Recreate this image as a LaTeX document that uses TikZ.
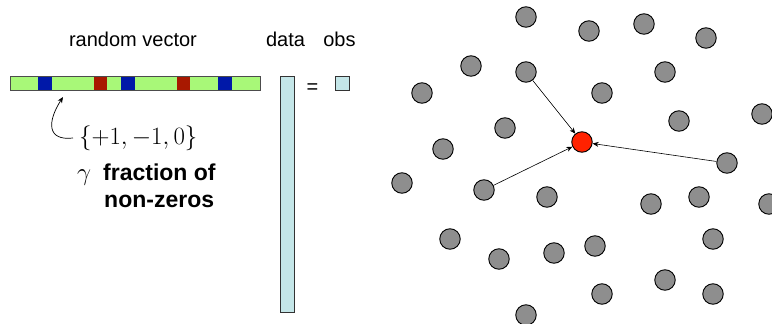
\documentclass[tikz,border=0pt]{standalone}
\usepackage{fontspec}
\setmainfont{Liberation Sans}
\usetikzlibrary{arrows.meta}
\definecolor{vgreen}{HTML}{A8F878}
\definecolor{vblue}{HTML}{0018A8}
\definecolor{vred}{HTML}{A81800}
\definecolor{vcyan}{HTML}{C4E6E8}
\definecolor{dotgray}{HTML}{8E8E8E}
\definecolor{hotred}{HTML}{FF2200}
\begin{document}
\begin{tikzpicture}[x=1pt,y=-1pt,
  lbl/.style={inner sep=0pt,font=\fontsize{20}{24}\selectfont},
  seg/.style={draw=none,inner sep=0pt},
  dot/.style={circle,draw=black,line width=0.9pt,fill=dotgray,minimum size=20.5pt,inner sep=0pt},
  hot/.style={circle,draw=black,line width=0.9pt,fill=hotred,minimum size=20.5pt,inner sep=0pt},
  link/.style={line width=0.6pt,-{Stealth[length=6pt,width=5pt]}},
  col/.style={draw=black!80,line width=0.9pt,fill=vcyan}]
\useasboundingbox (0,0) rectangle (772,324);
% labels
\node[lbl,anchor=base] (rv) at (133,46) {random vector};
\node[lbl,anchor=base] (dl) at (285.5,46) {data};
\node[lbl,anchor=base] (ol) at (339.5,46) {obs};
% bar
\fill[vgreen] (10,76) rectangle (260,90);
\fill[vblue] (38,76) rectangle (52,90);
\fill[vred] (94,76) rectangle (107,90);
\fill[vblue] (121,76) rectangle (135,90);
\fill[vred] (177,76) rectangle (190,90);
\fill[vblue] (218,76) rectangle (232,90);
\draw[black!70,line width=0.9pt] (10,76) rectangle (260,90);
\node[seg,minimum width=250pt,minimum height=14pt] (bar) at (135,83) {};
% data column and obs
\draw[col] (280,76) rectangle (294,312);
\node[seg,minimum width=14pt,minimum height=236pt] (data) at (287,194) {};
\node[lbl,anchor=center] (eq) at (312.5,88.5) {=};
\draw[col] (335,76) rectangle (349.5,90);
\node[seg,minimum width=14pt,minimum height=14pt] (obs) at (342,83) {};
% set text and arrow
\node[inner sep=0pt,anchor=west,font=\fontsize{25}{29}\selectfont] (set) at (79,138) {$\{+1,-1,0\}$};
\coordinate (cs) at (73,138);
\coordinate (ct) at (63,97);
\draw[line width=0.7pt,-{Stealth[length=6pt,width=5pt]}] (cs) .. controls (47,141) and (47,122) .. (ct);
\node[inner sep=0pt,anchor=base,font=\fontsize{24}{28}\selectfont] (gam) at (84,180) {$\gamma$};
\node[inner sep=0pt,anchor=base west,font=\fontsize{23}{27}\selectfont\bfseries] (fr) at (103,180) {fraction of};
\node[inner sep=0pt,anchor=base west,font=\fontsize{23}{27}\selectfont\bfseries] (nz) at (104,207) {non-zeros};
% dots
\node[dot] (c1) at (526,17) {};
\node[dot] (c2) at (589,31) {};
\node[dot] (c3) at (644,24) {};
\node[dot] (c4) at (706,38) {};
\node[dot] (c5) at (471,66) {};
\node[dot] (c6) at (526,72) {};
\node[dot] (c7) at (665,72) {};
\node[dot] (c8) at (422,93) {};
\node[dot] (c9) at (602,93) {};
\node[dot] (c10) at (762,114) {};
\node[dot] (c11) at (505,128) {};
\node[dot] (c12) at (679,121) {};
\node[dot] (c14) at (443,149) {};
\node[dot] (c15) at (727,163) {};
\node[dot] (c16) at (402,183) {};
\node[dot] (c17) at (484,190) {};
\node[dot] (c18) at (547,197) {};
\node[dot] (c19) at (651,204) {};
\node[dot] (c20) at (699,197) {};
\node[dot] (c21) at (769,204) {};
\node[dot] (c22) at (450,239) {};
\node[dot] (c23) at (499,259) {};
\node[dot] (c24) at (554,253) {};
\node[dot] (c25) at (595,246) {};
\node[dot] (c26) at (713,239) {};
\node[dot] (c27) at (665,280) {};
\node[dot] (c28) at (602,294) {};
\node[dot] (c29) at (713,294) {};
\node[dot] (c30) at (526,315) {};
\node[hot] (r) at (582,142) {};
\draw[link] (c6) -- (r);
\draw[link] (c17) -- (r);
\draw[link] (c15) -- (r);
\end{tikzpicture}
\end{document}
